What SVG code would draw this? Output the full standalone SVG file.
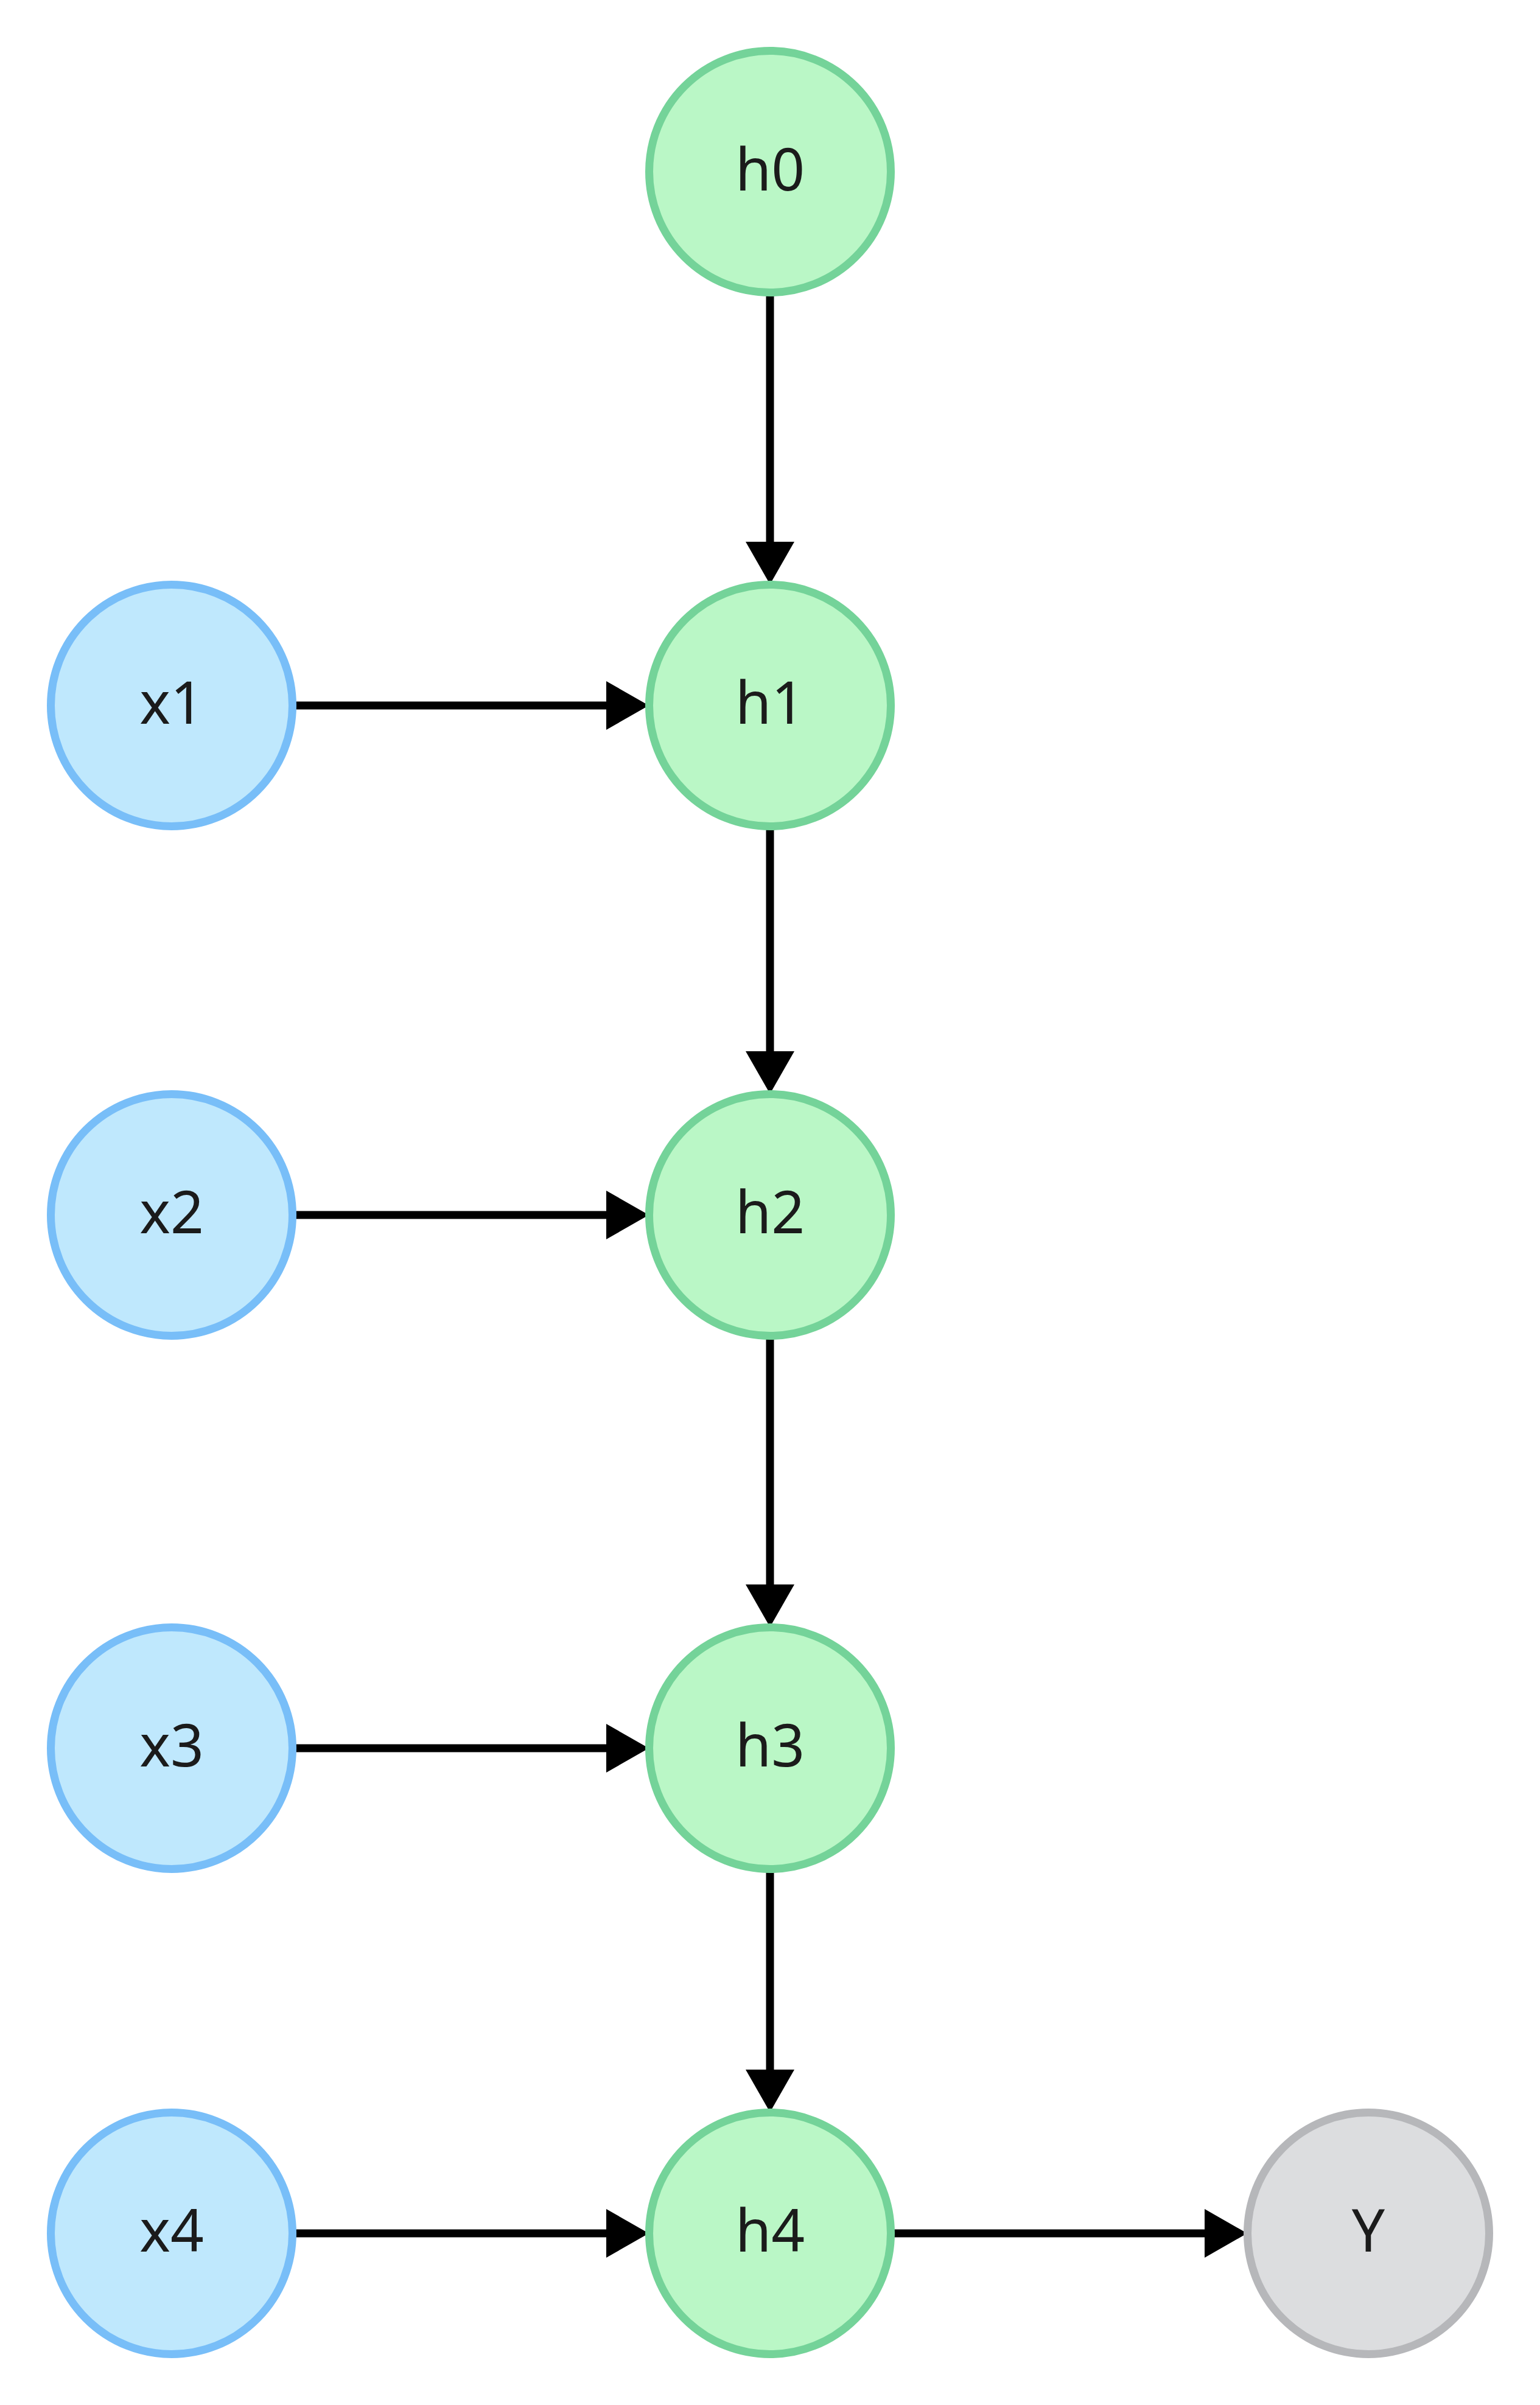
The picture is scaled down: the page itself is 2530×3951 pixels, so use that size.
<svg xmlns="http://www.w3.org/2000/svg" width="2530" height="3951" viewBox="0 0 2530 3951">
  <style>
    .node circle { stroke-width: 13; }
    .hidden-state circle { fill: #BAF7C6; stroke: #74D399; }
    .input circle { fill: #BFE8FD; stroke: #78BEF8; }
    .output circle { fill: #DCDDDF; stroke: #B6B7BA; }
    .node text { font-family: "Noto Sans", "DejaVu Sans", sans-serif; font-size: 96px; fill: #1B1B1B; text-anchor: middle; }
    .edge { fill: none; stroke: #000000; stroke-width: 13; marker-end: url(#arrow); }
  </style>
  <defs>
    <!-- solid triangular head; the line stops at its base -->
    <marker id="arrow" markerUnits="userSpaceOnUse" viewBox="0 0 70 80" refX="0" refY="40" markerWidth="70" markerHeight="80" orient="auto">
      <path d="M0,0 L70,40 L0,80 Z" fill="#000000"/>
    </marker>
  </defs>
  <rect width="2530" height="3951" fill="#FFFFFF"/>

  <g id="connectors">
    <!-- recurrent chain h0 -> h4 -->
    <path class="edge" d="M1265,481 L1265,890"/>
    <path class="edge" d="M1265,1358 L1265,1727"/>
    <path class="edge" d="M1265,2195 L1265,2603"/>
    <path class="edge" d="M1265,3071 L1265,3400"/>
    <!-- inputs into hidden states -->
    <path class="edge" d="M483,1159 L996,1159"/>
    <path class="edge" d="M483,1996 L996,1996"/>
    <path class="edge" d="M483,2872 L996,2872"/>
    <path class="edge" d="M483,3669 L996,3669"/>
    <!-- last hidden state to output -->
    <path class="edge" d="M1464,3669 L1979,3669"/>
  </g>

  <g id="h0" class="node hidden-state">
    <circle cx="1265" cy="282" r="198.5"/>
    <text x="1265" y="313">h0</text>
  </g>
  <g id="h1" class="node hidden-state">
    <circle cx="1265" cy="1159" r="198.5"/>
    <text x="1265" y="1189">h1</text>
  </g>
  <g id="h2" class="node hidden-state">
    <circle cx="1265" cy="1996" r="198.5"/>
    <text x="1265" y="2026">h2</text>
  </g>
  <g id="h3" class="node hidden-state">
    <circle cx="1265" cy="2872" r="198.5"/>
    <text x="1265" y="2902">h3</text>
  </g>
  <g id="h4" class="node hidden-state">
    <circle cx="1265" cy="3669" r="198.5"/>
    <text x="1265" y="3699">h4</text>
  </g>

  <g id="x1" class="node input">
    <circle cx="282" cy="1159" r="198.5"/>
    <text x="282" y="1189">x1</text>
  </g>
  <g id="x2" class="node input">
    <circle cx="282" cy="1996" r="198.5"/>
    <text x="282" y="2026">x2</text>
  </g>
  <g id="x3" class="node input">
    <circle cx="282" cy="2872" r="198.5"/>
    <text x="282" y="2902">x3</text>
  </g>
  <g id="x4" class="node input">
    <circle cx="282" cy="3669" r="198.5"/>
    <text x="282" y="3699">x4</text>
  </g>

  <g id="Y" class="node output">
    <circle cx="2248" cy="3669" r="198.5"/>
    <text x="2248" y="3699">Y</text>
  </g>
</svg>
